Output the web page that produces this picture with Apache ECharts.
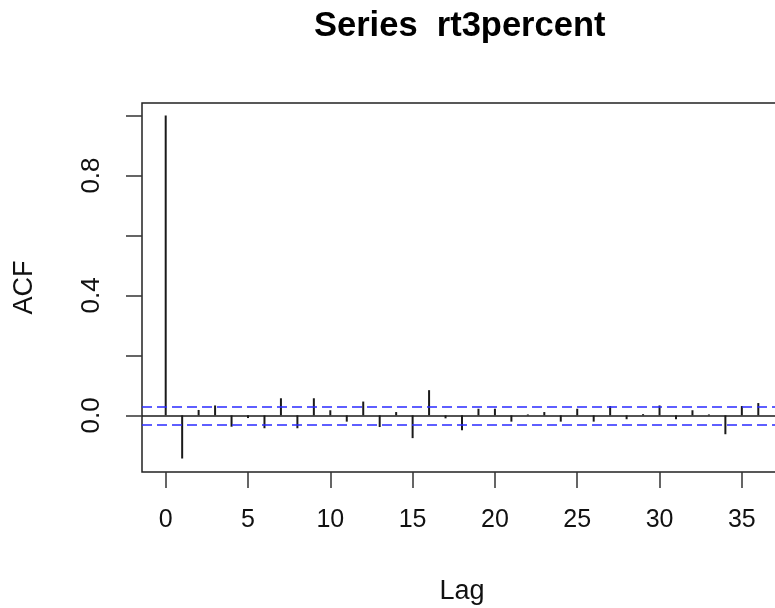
<!DOCTYPE html>
<html>
<head>
<meta charset="utf-8">
<script src="https://cdn.jsdelivr.net/npm/echarts@6/dist/echarts.min.js"></script>
<style>
  html, body { margin: 0; padding: 0; background: #fff; }
  #main { width: 775px; height: 608px; }
</style>
</head>
<body>
<div id="main"></div>
<script>
// acf values
var lags = [0, 1, 2, 3, 4, 5, 6, 7, 8, 9, 10, 11, 12, 13, 14, 15, 16, 17, 18,
            19, 20, 21, 22, 23, 24, 25, 26, 27, 28, 29, 30, 31, 32, 33, 34, 35, 36];
var acfValues = [1.0, -0.144, 0.018, 0.033, -0.038, -0.009, -0.043, 0.057, -0.043, 0.057,
                 0.017, -0.021, 0.046, -0.039, 0.011, -0.076, 0.084, -0.010, -0.050,
                 0.022, 0.022, -0.021, 0.003, 0.011, -0.021, 0.022, -0.021, 0.031,
                 -0.013, 0.004, 0.033, -0.013, 0.017, 0.003, -0.063, 0.031, 0.041];
var ciBound = 0.031;
var xTicks = [0, 5, 10, 15, 20, 25, 30, 35];
var yTicks = [0, 0.2, 0.4, 0.6, 0.8, 1.0];
var yLabels = [0, 0.4, 0.8];

var font = "'Liberation Sans', Arial, sans-serif";

var chartDom = document.getElementById('main');
var myChart = echarts.init(chartDom);

var barData = lags.map(function (lag, i) {
    return [lag, acfValues[i]];
});

var option = {
    backgroundColor: '#fff',
    animation: false,
    title: {
        text: 'Series  rt3percent',
        left: 314,
        top: 9,
        padding: 0,
        textStyle: {
            fontFamily: font,
            fontSize: 34.5,
            fontWeight: 'bold',
            color: '#000'
        }
    },
    grid: {
        left: 142,
        top: 103,
        width: 640,
        height: 369,
        outerBoundsMode: 'none',
        containLabel: false,
        show: true,
        borderColor: '#222',
        borderWidth: 1.5,
        backgroundColor: 'transparent'
    },
    xAxis: {
        type: 'value',
        min: -1.44,
        max: 37.44,
        name: 'Lag',
        nameLocation: 'middle',
        nameGap: 106,
        nameTextStyle: { fontFamily: font, fontSize: 27, color: '#111' },
        axisLine: { show: false, onZero: false },
        splitLine: { show: false },
        axisTick: {
            show: true,
            inside: false,
            length: 16,
            customValues: xTicks,
            lineStyle: { color: '#333', width: 1.5 }
        },
        axisLabel: {
            customValues: xTicks,
            margin: 36,
            fontFamily: font,
            fontSize: 25,
            color: '#111'
        }
    },
    yAxis: {
        type: 'value',
        min: -0.189,
        max: 1.042,
        name: 'ACF',
        nameLocation: 'middle',
        nameRotate: 90,
        nameGap: 104,
        nameTextStyle: { fontFamily: font, fontSize: 27, color: '#111' },
        axisLine: { show: false, onZero: false },
        splitLine: { show: false },
        axisTick: {
            show: true,
            inside: false,
            length: 16,
            customValues: yTicks,
            lineStyle: { color: '#333', width: 1.5 }
        },
        axisLabel: {
            customValues: yLabels,
            rotate: 90,
            margin: 37,
            fontFamily: font,
            fontSize: 26,
            color: '#111',
            formatter: function (v) { return v.toFixed(1); }
        }
    },
    series: [
        {
            name: 'ACF',
            type: 'bar',
            barWidth: 2,
            data: barData,
            itemStyle: { color: '#1a1a1a' },
            markLine: {
                silent: true,
                symbol: 'none',
                label: { show: false },
                data: [
                    { yAxis: 0, lineStyle: { color: '#1a1a1a', type: 'solid', width: 1.5 } },
                    { yAxis: ciBound, lineStyle: { color: '#2a2aff', type: [10, 5], width: 1.5 } },
                    { yAxis: -ciBound, lineStyle: { color: '#2a2aff', type: [10, 5], width: 1.5 } }
                ]
            }
        }
    ]
};

myChart.setOption(option);
</script>
</body>
</html>
